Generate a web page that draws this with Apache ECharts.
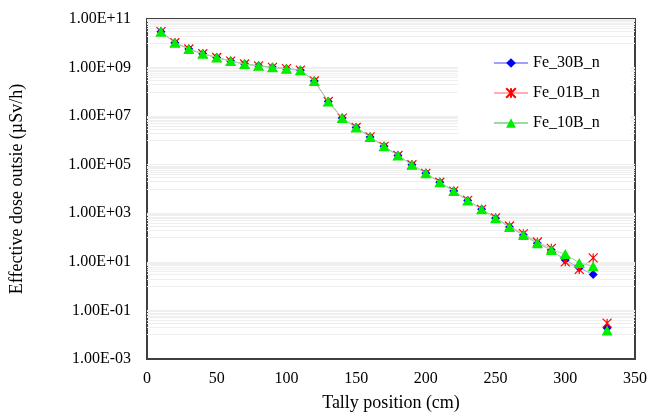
<!DOCTYPE html>
<html>
<head>
<meta charset="utf-8">
<script src="https://cdn.jsdelivr.net/npm/echarts@6/dist/echarts.min.js"></script>
<style>
html,body{margin:0;padding:0;background:#fff;}
#chart{width:660px;height:417px;}
</style>
</head>
<body>
<div id="chart"></div>
<script>
// ---- data ----
const tallyPositions = [10,20,30,40,50,60,70,80,90,100,110,120,130,140,150,160,170,180,190,200,210,220,230,240,250,260,270,280,290,300,310,320,330];
const fe30B = [3.0e10,1.05e10,5.8e9,3.7e9,2.6e9,1.85e9,1.4e9,1.18e9,1.02e9,9.0e8,7.8e8,2.8e8,4.0e7,8.3e6,3.4e6,1.4e6,5.7e5,2.4e5,1.0e5,4.4e4,1.9e4,8.2e3,3.4e3,1.45e3,630,270,128,58,31,12,5.7,3.0,0.019];
const fe01B = [3.0e10,1.05e10,5.8e9,3.7e9,2.6e9,1.85e9,1.4e9,1.18e9,1.02e9,9.0e8,7.8e8,2.8e8,4.0e7,8.3e6,3.4e6,1.4e6,5.7e5,2.4e5,1.0e5,4.4e4,1.9e4,8.2e3,3.4e3,1.45e3,650,300,145,66,36,10,4.9,14.5,0.03];
const fe10B = [3.0e10,1.05e10,5.8e9,3.7e9,2.6e9,1.85e9,1.4e9,1.18e9,1.02e9,9.0e8,7.8e8,2.8e8,4.0e7,8.3e6,3.4e6,1.4e6,5.7e5,2.4e5,1.0e5,4.4e4,1.9e4,8.2e3,3.4e3,1.45e3,630,270,128,58,31,21,9,6.6,0.015];
const seriesNames = ['Fe_30B_n','Fe_01B_n','Fe_10B_n'];
const xTicks = [0,50,100,150,200,250,300,350];
const yTickLabels = {'11':'1.00E+11','9':'1.00E+09','7':'1.00E+07','5':'1.00E+05','3':'1.00E+03','1':'1.00E+01','-1':'1.00E-01','-3':'1.00E-03'};
const breakBefore = 330; // line is not drawn into this position

// ---- build ----
function pairs(vals){
  const out = [];
  tallyPositions.forEach((x,i)=>{
    if (x === breakBefore) out.push([x - 5, '-']);
    out.push([x, vals[i]]);
  });
  return out;
}
// faint Excel-like gridlines (decade just below each labelled major)
const gridVals = [];
Object.keys(yTickLabels).map(Number).forEach(e=>{
  if (e <= -3) return;
  const M = Math.pow(10, e);
  gridVals.push({yAxis: M});
  for (let k=1;k<=9;k++) gridVals.push({yAxis: k*M/10});
});

const FONT = "'Liberation Serif','Times New Roman',serif";
const asterisk = 'path://M0,0L10,10M10,0L0,10M5,0L5,10';

const chart = echarts.init(document.getElementById('chart'), null, {renderer:'canvas'});
chart.setOption({
  animation:false,
  backgroundColor:'#fff',
  textStyle:{fontFamily:FONT,color:'#000'},
  grid:{left:144,right:25,top:19,bottom:55,show:true,borderColor:'#404040',borderWidth:2,backgroundColor:'transparent'},
  legend:{
    orient:'vertical',left:458,top:44,z:10,
    padding:[11,31,8,35],
    backgroundColor:'#fff',
    itemWidth:34,itemHeight:12,itemGap:14,
    textStyle:{fontFamily:FONT,fontSize:16,color:'#000',lineHeight:16},
    data:seriesNames
  },
  xAxis:{
    type:'value',min:xTicks[0],max:xTicks[xTicks.length-1],interval:50,
    name:'Tally position (cm)',nameLocation:'middle',nameGap:35,
    nameTextStyle:{fontFamily:FONT,fontSize:18,color:'#000'},
    axisLine:{show:false},axisTick:{show:false},splitLine:{show:false},
    axisLabel:{fontFamily:FONT,fontSize:16,color:'#000',margin:12}
  },
  yAxis:{
    type:'log',logBase:10,min:1e-3,max:1e11,interval:1,
    name:'Effective dose outsie (µSv/h)',nameLocation:'middle',nameGap:121,
    nameTextStyle:{fontFamily:FONT,fontSize:18,color:'#000'},
    axisLine:{show:false},axisTick:{show:false},splitLine:{show:false},minorSplitLine:{show:false},
    axisLabel:{fontFamily:FONT,fontSize:16,color:'#000',margin:16,
      formatter:function(v){const e=Math.round(Math.log10(v));return yTickLabels[String(e)]||'';}}
  },
  series:[
    {
      type:'line',name:'__grid',data:[],silent:true,z:0,
      markLine:{silent:true,symbol:'none',animation:false,z:0,label:{show:false},
        lineStyle:{color:'#efefef',width:1,type:'solid'},data:gridVals}
    },
    {
      type:'line',name:seriesNames[0],data:pairs(fe30B),connectNulls:false,
      symbol:'diamond',symbolSize:9,
      itemStyle:{color:'#0000ff'},
      lineStyle:{color:'#a0a0ff',width:1},z:3
    },
    {
      type:'line',name:seriesNames[1],data:pairs(fe01B),connectNulls:false,
      symbol:asterisk,symbolSize:9,
      itemStyle:{color:'#ff0000',borderColor:'#ff0000',borderWidth:1.2},
      lineStyle:{color:'#ffb0b0',width:1},z:4
    },
    {
      type:'line',name:seriesNames[2],data:pairs(fe10B),connectNulls:false,
      symbol:'triangle',symbolSize:[11,10],
      itemStyle:{color:'#00ee00'},
      lineStyle:{color:'#99dd99',width:1},z:5
    }
  ]
});
</script>
</body>
</html>
